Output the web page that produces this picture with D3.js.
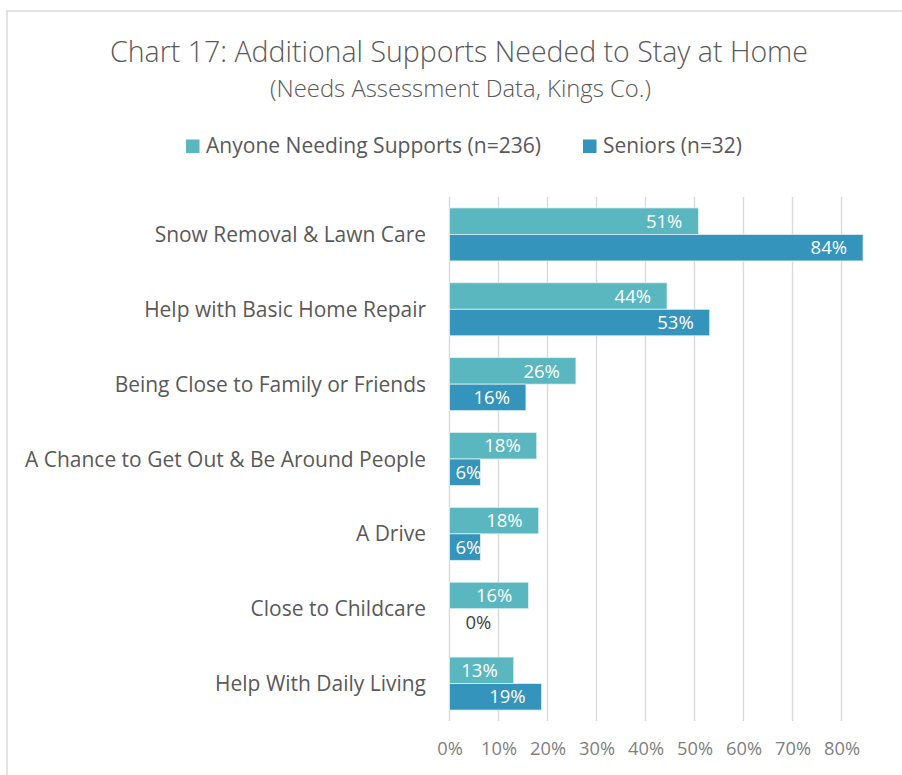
<!DOCTYPE html>
<html>
<head>
<meta charset="utf-8">
<script src="https://cdn.jsdelivr.net/npm/d3@7"></script>
<style>
  html, body { margin: 0; padding: 0; background: #fff; }
  svg { display: block; font-family: "Open Sans", "Noto Sans", sans-serif; }
</style>
</head>
<body>
<svg id="chart" width="902" height="775"></svg>
<script>
// ---- data ----
const categories = [
  "Snow Removal & Lawn Care",
  "Help with Basic Home Repair",
  "Being Close to Family or Friends",
  "A Chance to Get Out & Be Around People",
  "A Drive",
  "Close to Childcare",
  "Help With Daily Living"
];
const seriesNames = ["Anyone Needing Supports (n=236)", "Seniors (n=32)"];
const anyoneValues = [0.508, 0.444, 0.258, 0.178, 0.182, 0.161, 0.131];
const seniorValues = [0.844, 0.531, 0.156, 0.063, 0.063, 0.0, 0.188];
const xTicks = [0, 0.1, 0.2, 0.3, 0.4, 0.5, 0.6, 0.7, 0.8];
const titleText = "Chart 17: Additional Supports Needed to Stay at Home";
const subtitleText = "(Needs Assessment Data, Kings Co.)";

const colors = ["#5bb7bf", "#3594bb"];
const svg = d3.select("#chart");

// fit helper: scale font-size so text width matches target
function fit(sel, target) {
  const node = sel.node();
  const fs = parseFloat(sel.attr("font-size"));
  const w = node.getComputedTextLength();
  if (w > 0) sel.attr("font-size", (fs * target / w).toFixed(2));
}

// chart frame
svg.append("rect").attr("x", 7).attr("y", 11).attr("width", 1000).attr("height", 1000)
  .attr("fill", "none").attr("stroke", "#d9d9d9").attr("stroke-width", 1.5);

// title
const t1 = svg.append("text").attr("x", 459).attr("y", 62).attr("text-anchor", "middle")
  .attr("font-size", 26).attr("font-weight", 300).attr("fill", "#595959").text(titleText);
fit(t1, 698);
const t2 = svg.append("text").attr("x", 460.5).attr("y", 96.5).attr("text-anchor", "middle")
  .attr("font-size", 20).attr("font-weight", 300).attr("fill", "#595959").text(subtitleText);
fit(t2, 381);

// legend
const legendPos = [{sx: 186, tx: 206, w: 335}, {sx: 583, tx: 603, w: 139}];
seriesNames.forEach((name, i) => {
  svg.append("rect").attr("x", legendPos[i].sx).attr("y", 139.5).attr("width", 13.5).attr("height", 13.5)
    .attr("fill", colors[i]);
  const lt = svg.append("text").attr("x", legendPos[i].tx).attr("y", 152.5)
    .attr("font-size", 19).attr("fill", "#595959").text(name);
  fit(lt, legendPos[i].w);
});

// scales
const x = d3.scaleLinear().domain([0, 0.8]).range([449.5, 841.5]);
const y = d3.scaleBand().domain(categories).range([197, 721]).paddingInner(0.292).paddingOuter(0.146);
const ys = d3.scaleBand().domain(seriesNames).range([0, y.bandwidth()]);

// gridlines
svg.append("g").selectAll("line").data(xTicks).join("line")
  .attr("x1", d => x(d)).attr("x2", d => x(d))
  .attr("y1", 197).attr("y2", 721)
  .attr("stroke", "#d9d9d9").attr("stroke-width", 1.4);

// x axis labels
const xAxis = svg.append("g").attr("transform", "translate(0,721)")
  .call(d3.axisBottom(x).tickValues(xTicks).tickFormat(d3.format(".0%")).tickSize(0).tickPadding(0));
xAxis.select(".domain").remove();
xAxis.selectAll("text").attr("font-size", 17).attr("fill", "#808080")
  .attr("font-family", "\"Open Sans\", sans-serif").attr("dy", 0).attr("y", 33.5);
const lastTick = xAxis.selectAll("text").filter(d => d === 0.8);
fit(lastTick, 36);
const axisFs = lastTick.attr("font-size");
xAxis.selectAll("text").attr("font-size", axisFs);

// category labels
const catG = svg.append("g");
const catText = catG.selectAll("text").data(categories).join("text")
  .attr("x", 426).attr("y", d => y(d) + y.bandwidth() / 2)
  .attr("dy", "0.36em").attr("text-anchor", "end")
  .attr("font-size", 19).attr("fill", "#595959").text(d => d);
const longest = catText.filter(d => d === "A Chance to Get Out & Be Around People");
fit(longest, 401);
catText.attr("font-size", longest.attr("font-size"));

// bars
const rows = categories.map((c, i) => ({cat: c, vals: [
  {s: seriesNames[0], v: anyoneValues[i], k: 0},
  {s: seriesNames[1], v: seniorValues[i], k: 1}
]}));
const groups = svg.append("g").selectAll("g").data(rows).join("g")
  .attr("transform", d => `translate(0,${y(d.cat)})`);
groups.selectAll("rect").data(d => d.vals).join("rect")
  .attr("x", x(0)).attr("y", d => ys(d.s))
  .attr("width", d => x(d.v) - x(0)).attr("height", ys.bandwidth())
  .attr("fill", d => colors[d.k])
  .attr("stroke", d => d.v > 0 ? "#dff0f3" : "none").attr("stroke-width", 0.8);

// bar labels
const fmt = d3.format(".0%");
const lblFs = 18.5;
groups.selectAll("text").data(d => d.vals).join("text")
  .attr("y", d => ys(d.s) + ys.bandwidth() / 2).attr("dy", "0.36em")
  .attr("font-size", lblFs)
  .attr("fill", d => d.v === 0 ? "#404040" : "#ffffff")
  .attr("text-anchor", d => (x(d.v) - x(0) < 50) ? "start" : "end")
  .attr("x", d => {
    const w = x(d.v) - x(0);
    if (d.v === 0) return x(0) + 16;
    if (w < 50) return x(0) + 6;
    return x(d.v) - 16;
  })
  .text(d => fmt(d.v));
</script>
</body>
</html>
